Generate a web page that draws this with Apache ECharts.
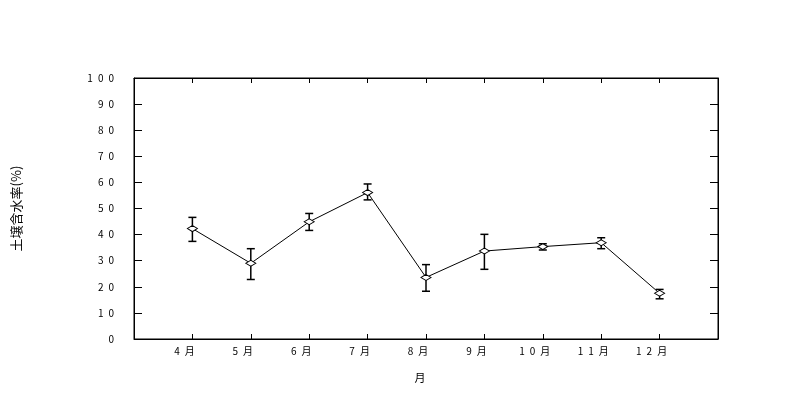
<!DOCTYPE html>
<html><head><meta charset="utf-8">
<script src="https://cdn.jsdelivr.net/npm/echarts@6/dist/echarts.min.js"></script>
<style>html,body{margin:0;padding:0;background:#fff}#c{width:795px;height:393px}</style>
</head><body><div id="c"></div>
<script>
const months = [4,5,6,7,8,9,10,11,12];
const monthLabels = ['4\u2002月','5\u2002月','6\u2002月','7\u2002月','8\u2002月','9\u2002月','1\u20020\u2002月','1\u20021\u2002月','1\u20022\u2002月'];
const means = [42.3, 29.0, 44.9, 56.1, 23.6, 33.7, 35.4, 36.9, 17.5];
const upper = [46.6, 34.6, 48.1, 59.4, 28.5, 40.1, 36.5, 38.8, 19.0];
const lower = [37.4, 22.8, 41.6, 53.3, 18.3, 26.7, 34.1, 34.6, 15.4];
const yTicks = [0,10,20,30,40,50,60,70,80,90,100];
const yTickLabels = ['0','1\u20020','2\u20020','3\u20020','4\u20020','5\u20020','6\u20020','7\u20020','8\u20020','9\u20020','1\u20020\u20020'];

const font = '"Noto Sans CJK JP", sans-serif';
const chart = echarts.init(document.getElementById('c'));
const lineData = months.map((m,i)=>[m, means[i]]);
const errData = months.map((m,i)=>[m, lower[i], upper[i]]);
const baseX = {type:'value', min:3, max:13, interval:1,
  axisLine:{show:true, onZero:false, lineStyle:{color:'#000', width:1}}, splitLine:{show:false},
  axisTick:{show:true, inside:true, length:5, lineStyle:{color:'#000'}}};
const baseY = {type:'value', min:0, max:100, interval:10,
  axisLine:{show:true, onZero:false, lineStyle:{color:'#000', width:1}}, splitLine:{show:false},
  axisTick:{show:true, inside:true, length:8, lineStyle:{color:'#000'}}};
chart.setOption({
  animation:false,
  grid:{left:134, top:78, width:584, height:261, show:true, borderColor:'#000', borderWidth:1, backgroundColor:'transparent'},
  xAxis:[
    Object.assign({}, baseX, {position:'bottom', name:'月', nameLocation:'middle', nameGap:33,
      nameTextStyle:{fontFamily:font, fontSize:11, color:'#000', padding:[0,12,0,0]},
      axisLabel:{fontFamily:font, fontSize:10, color:'#000', margin:7, align:'center', padding:[0,16,0,0],
        formatter:v=>{const k=months.indexOf(v); return k>=0?monthLabels[k]:'';}}}),
    Object.assign({}, baseX, {position:'top', axisLabel:{show:false}})
  ],
  yAxis:[
    Object.assign({}, baseY, {position:'left', name:'土壌含水率(%)', nameLocation:'middle', nameGap:111, nameRotate:90,
      nameTextStyle:{fontFamily:font, fontSize:13, color:'#000'},
      axisLabel:{fontFamily:font, fontSize:10, color:'#000', margin:20,
        formatter:v=>{const k=yTicks.indexOf(v); return k>=0?yTickLabels[k]:'';}}}),
    Object.assign({}, baseY, {position:'right', axisLabel:{show:false}})
  ],
  series:[
    {type:'custom', xAxisIndex:0, yAxisIndex:0, data:errData, z:3,
     renderItem:function(params, api){
       const x = api.value(0);
       const top = api.coord([x, api.value(2)]);
       const bot = api.coord([x, api.value(1)]);
       const hw = 4;
       const st = {stroke:'#000', lineWidth:1.5, fill:null};
       return {type:'group', children:[
         {type:'line', shape:{x1:top[0], y1:top[1], x2:bot[0], y2:bot[1]}, style:st},
         {type:'line', shape:{x1:top[0]-hw, y1:top[1], x2:top[0]+hw, y2:top[1]}, style:st},
         {type:'line', shape:{x1:bot[0]-hw, y1:bot[1], x2:bot[0]+hw, y2:bot[1]}, style:st}
       ]};
     }},
    {type:'line', xAxisIndex:0, yAxisIndex:0, data:lineData, z:4,
     symbol:'diamond', symbolSize:[10,6], showAllSymbol:true,
     lineStyle:{color:'#000', width:1},
     itemStyle:{color:'#fff', borderColor:'#000', borderWidth:1}}
  ]
});
</script></body></html>
